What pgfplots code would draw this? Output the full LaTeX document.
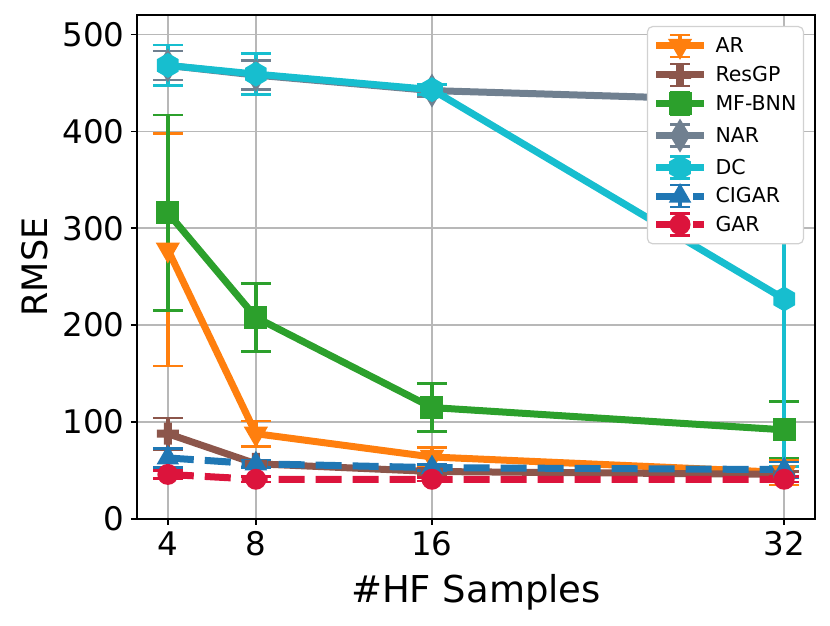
\documentclass[border=0pt]{standalone}
\usepackage{pgfplots}
\pgfplotsset{compat=1.18}
\usepackage{fontspec}
\setmainfont{DejaVu Sans}
\definecolor{cAR}{HTML}{FF7F0E}
\definecolor{cRes}{HTML}{8C564B}
\definecolor{cMF}{HTML}{2CA02C}
\definecolor{cNAR}{HTML}{708090}
\definecolor{cDC}{HTML}{17BECF}
\definecolor{cCI}{HTML}{1F77B4}
\definecolor{cGAR}{HTML}{DC143C}
\pgfdeclareplotmark{pfill}{%
  \pgfpathmoveto{\pgfqpoint{-0.36\pgfplotmarksize}{\pgfplotmarksize}}%
  \pgfpathlineto{\pgfqpoint{0.36\pgfplotmarksize}{\pgfplotmarksize}}%
  \pgfpathlineto{\pgfqpoint{0.36\pgfplotmarksize}{0.36\pgfplotmarksize}}%
  \pgfpathlineto{\pgfqpoint{\pgfplotmarksize}{0.36\pgfplotmarksize}}%
  \pgfpathlineto{\pgfqpoint{\pgfplotmarksize}{-0.36\pgfplotmarksize}}%
  \pgfpathlineto{\pgfqpoint{0.36\pgfplotmarksize}{-0.36\pgfplotmarksize}}%
  \pgfpathlineto{\pgfqpoint{0.36\pgfplotmarksize}{-\pgfplotmarksize}}%
  \pgfpathlineto{\pgfqpoint{-0.36\pgfplotmarksize}{-\pgfplotmarksize}}%
  \pgfpathlineto{\pgfqpoint{-0.36\pgfplotmarksize}{-0.36\pgfplotmarksize}}%
  \pgfpathlineto{\pgfqpoint{-\pgfplotmarksize}{-0.36\pgfplotmarksize}}%
  \pgfpathlineto{\pgfqpoint{-\pgfplotmarksize}{0.36\pgfplotmarksize}}%
  \pgfpathlineto{\pgfqpoint{-0.36\pgfplotmarksize}{0.36\pgfplotmarksize}}%
  \pgfpathclose\pgfusepathqfill}
\pgfdeclareplotmark{hexa}{%
  \pgfpathmoveto{\pgfpointpolar{90}{\pgfplotmarksize}}%
  \pgfpathlineto{\pgfpointpolar{150}{\pgfplotmarksize}}%
  \pgfpathlineto{\pgfpointpolar{210}{\pgfplotmarksize}}%
  \pgfpathlineto{\pgfpointpolar{270}{\pgfplotmarksize}}%
  \pgfpathlineto{\pgfpointpolar{330}{\pgfplotmarksize}}%
  \pgfpathlineto{\pgfpointpolar{30}{\pgfplotmarksize}}%
  \pgfpathclose\pgfusepathqfill}
\pgfdeclareplotmark{tdiam}{%
  \pgfpathmoveto{\pgfqpoint{0pt}{\pgfplotmarksize}}%
  \pgfpathlineto{\pgfqpoint{0.6\pgfplotmarksize}{0pt}}%
  \pgfpathlineto{\pgfqpoint{0pt}{-\pgfplotmarksize}}%
  \pgfpathlineto{\pgfqpoint{-0.6\pgfplotmarksize}{0pt}}%
  \pgfpathclose\pgfusepathqfill}
\pgfdeclareplotmark{vtri}{%
  \pgfpathmoveto{\pgfpointpolar{270}{\pgfplotmarksize}}%
  \pgfpathlineto{\pgfpointpolar{30}{\pgfplotmarksize}}%
  \pgfpathlineto{\pgfpointpolar{150}{\pgfplotmarksize}}%
  \pgfpathclose\pgfusepathqfill}
\pgfdeclareplotmark{utri}{%
  \pgfpathmoveto{\pgfpointpolar{90}{\pgfplotmarksize}}%
  \pgfpathlineto{\pgfpointpolar{210}{\pgfplotmarksize}}%
  \pgfpathlineto{\pgfpointpolar{330}{\pgfplotmarksize}}%
  \pgfpathclose\pgfusepathqfill}
\pgfdeclareplotmark{sqr}{%
  \pgfpathrectangle{\pgfqpoint{-\pgfplotmarksize}{-\pgfplotmarksize}}{\pgfqpoint{2\pgfplotmarksize}{2\pgfplotmarksize}}%
  \pgfusepathqfill}
\pgfdeclareplotmark{circ}{%
  \pgfpathcircle{\pgfpointorigin}{\pgfplotmarksize}\pgfusepathqfill}
\pgfplotsset{ebar/.style={error bars/.cd, y dir=both, y explicit,
    error bar style={line width=4.5pt, solid},
    error mark options={rotate=90, line width=2.6pt, mark size=15pt, solid}}}
\begin{document}
\begin{tikzpicture}
\useasboundingbox (0,0) rectangle (830pt,626pt);
\begin{axis}[
  at={(137pt,107pt)}, anchor=south west,
  scale only axis, width=678pt, height=504pt,
  xmin=2.6, xmax=33.4, ymin=0, ymax=520,
  xtick={4,8,16,32}, ytick={0,100,200,300,400,500},
  xtick pos=left, ytick pos=left, tick align=outside,
  major tick length=6pt,
  every tick/.style={black, line width=1.5pt},
  axis line style={black, line width=1.8pt},
  grid=major, major grid style={color=black!28, line width=1.5pt},
  /pgf/number format/assume math mode=true,
  ticklabel style={font=\fontsize{32.5}{32.5}\selectfont},
  xticklabel style={yshift=-3pt},
  yticklabel style={xshift=-3pt},
  every axis x label/.style={at={(axis description cs:0.5,-0.1647)}, anchor=base, font=\fontsize{37}{37}\selectfont},
  every axis y label/.style={at={(axis description cs:-0.1504,0.5)}, rotate=90, anchor=center, font=\fontsize{35}{35}\selectfont},
  xlabel={\#HF Samples}, ylabel={RMSE},
  legend style={at={(1,1)}, anchor=north east, xshift=-11pt, yshift=-11pt,
    draw=black!18, line width=1.2pt, rounded corners=5pt, fill=white,
    font=\fontsize{20.5}{20.5}\selectfont, row sep=1.9pt, inner xsep=5pt, inner ysep=6pt,
    /tikz/every odd column/.append style={column sep=6pt}},
  legend cell align=left,
  legend image code/.code={%
    \draw[#1, line width=2.4pt, solid, mark=none] (14pt,-11pt)--(34pt,-11pt) (14pt,11pt)--(34pt,11pt);
    \draw[#1, line width=4.5pt, solid, mark=none] (24pt,-11pt)--(24pt,11pt);
    \draw[#1, mark repeat=2, mark phase=2] plot coordinates {(0pt,0pt)(24pt,0pt)(48pt,0pt)};},
  every axis plot/.append style={line width=7pt},
]
\addplot[cAR, mark=vtri, mark size=14pt, mark options={solid}, ebar] table[x=x, y=y, y error=e] {
x y e
4 278 120
8 88 13
16 64 10
32 48 13
};
\addlegendentry{AR}
\addplot[cRes, mark=pfill, mark size=11pt, mark options={solid}, ebar] table[x=x, y=y, y error=e] {
x y e
4 88 16
8 57 4
16 49 3
32 46 3
};
\addlegendentry{ResGP}
\addplot[cMF, mark=sqr, mark size=11.5pt, mark options={solid}, ebar] table[x=x, y=y, y error=e] {
x y e
4 316 101
8 208 35
16 115 25
32 92 29
};
\addlegendentry{MF-BNN}
\addplot[cNAR, mark=tdiam, mark size=17pt, mark options={solid}, ebar] table[x=x, y=y, y error=e] {
x y e
4 468 15
8 458 15
16 442 6
32 431 5
};
\addlegendentry{NAR}
\addplot[cDC, mark=hexa, mark size=12.5pt, mark options={solid}, ebar] table[x=x, y=y, y error=e] {
x y e
4 468 21
8 459 21
16 443 5
32 227 173
};
\addlegendentry{DC}
\addplot[cCI, dash pattern=on 26pt off 11pt, mark=utri, mark size=13pt, mark options={solid}, ebar] table[x=x, y=y, y error=e] {
x y e
4 63 10
8 57 4
16 53 3
32 51 8
};
\addlegendentry{CIGAR}
\addplot[cGAR, dash pattern=on 26pt off 11pt, mark=circ, mark size=10.5pt, mark options={solid}, ebar] table[x=x, y=y, y error=e] {
x y e
4 46 4
8 41 3
16 41 2
32 41 3
};
\addlegendentry{GAR}
\end{axis}
\end{tikzpicture}
\end{document}
